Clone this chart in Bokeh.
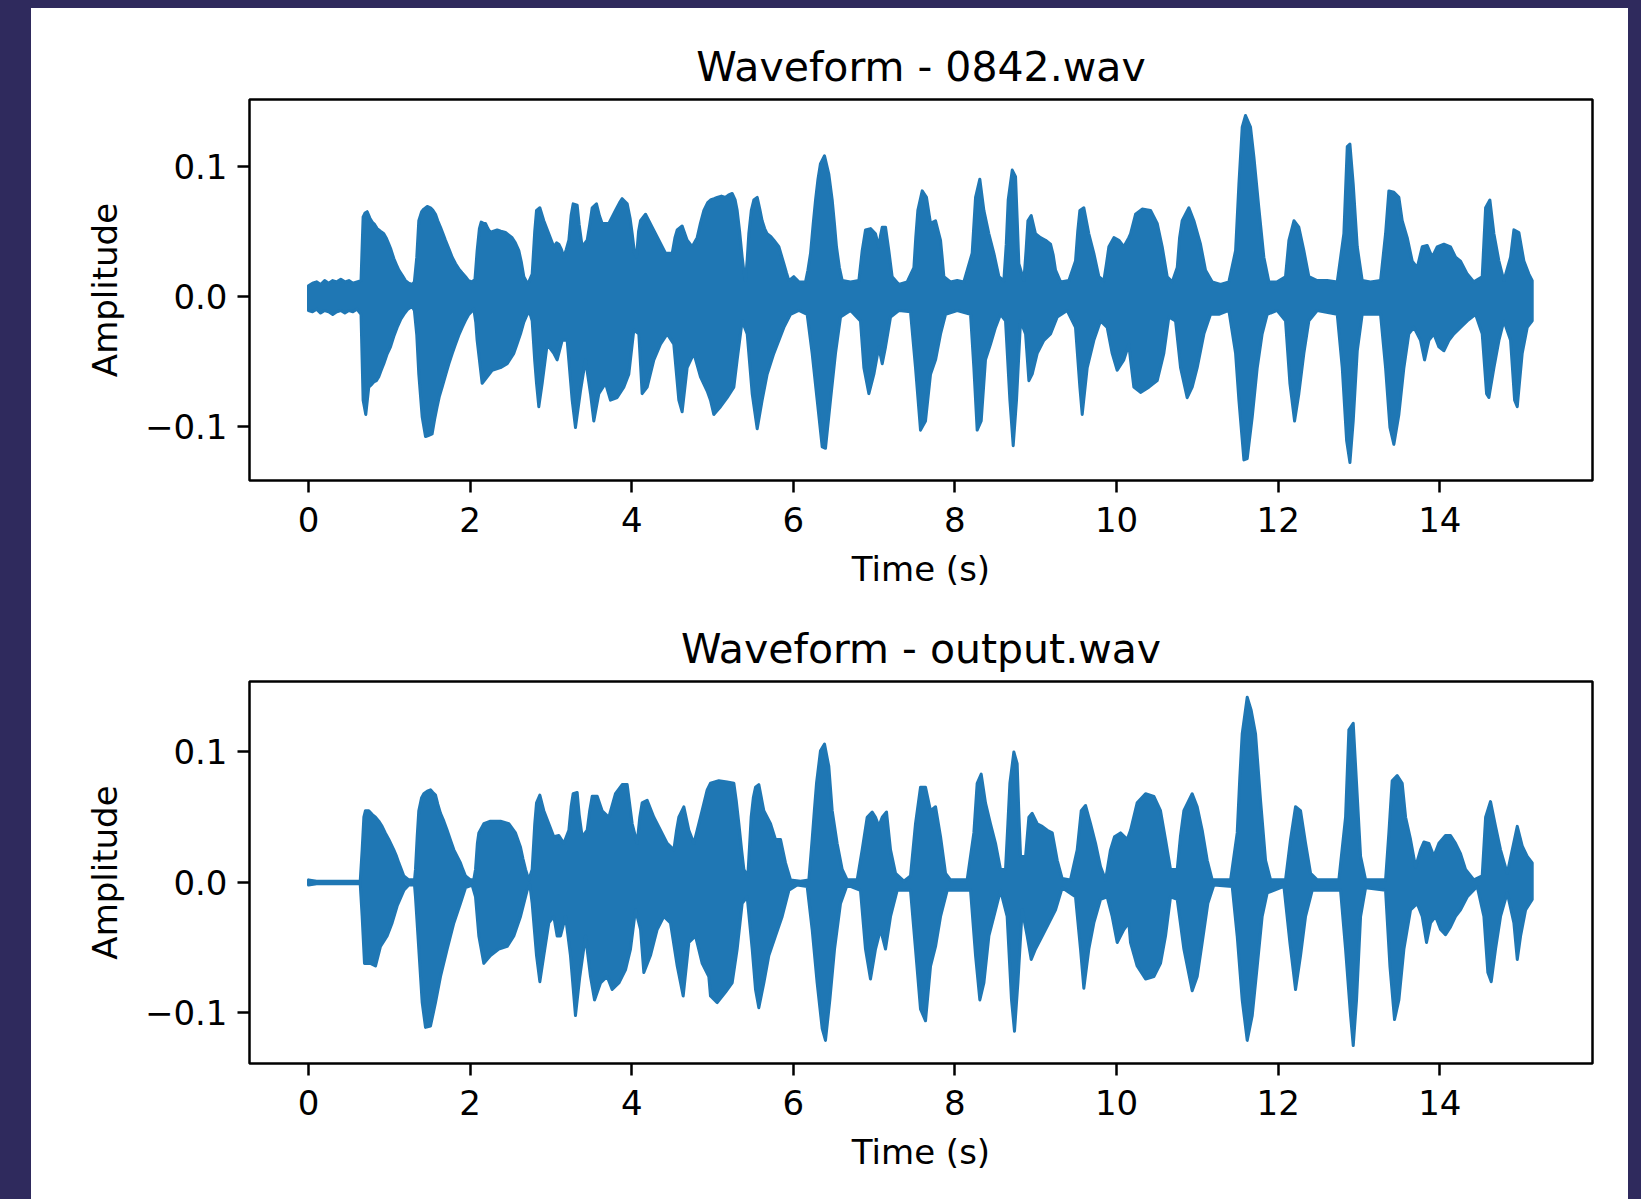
from bokeh.plotting import figure
from bokeh.layouts import row, column
from bokeh.models import FixedTicker, Range1d, Div
from bokeh.embed import file_html
from bokeh.resources import INLINE

PAGE_BG = "#2f2a5d"
WAVE = "#1f77b4"
FONT = "DejaVu Sans"

time_ticks = [0, 2, 4, 6, 8, 10, 12, 14]
amp_ticks = [-0.1, 0.0, 0.1]
amp_labels = {-0.1: "\u22120.1", 0.0: "0.0", 0.1: "0.1"}

# Peak envelopes (time in s, amplitude) of 0842.wav
top_upper = [
    (0.00, 0.008), (0.05, 0.010), (0.10, 0.011), (0.15, 0.009), (0.20, 0.012), (0.25, 0.010),
    (0.30, 0.012), (0.35, 0.011), (0.40, 0.013), (0.45, 0.011), (0.50, 0.012), (0.55, 0.010),
    (0.60, 0.011), (0.65, 0.012),
    (0.676, 0.061), (0.70, 0.064), (0.726, 0.065), (0.76, 0.060), (0.788, 0.057), (0.82, 0.055),
    (0.85, 0.052), (0.89, 0.050), (0.932, 0.048), (0.96, 0.045), (0.994, 0.040), (1.02, 0.036),
    (1.056, 0.029), (1.09, 0.024), (1.118, 0.020), (1.16, 0.016), (1.20, 0.012), (1.24, 0.010),
    (1.283, 0.009), (1.31, 0.011),
    (1.34, 0.030), (1.365, 0.058), (1.40, 0.065), (1.427, 0.067), (1.47, 0.069), (1.51, 0.068),
    (1.54, 0.066), (1.572, 0.063), (1.60, 0.058), (1.634, 0.053), (1.665, 0.048), (1.695, 0.043),
    (1.74, 0.036), (1.778, 0.030), (1.82, 0.025), (1.86, 0.021), (1.90, 0.018), (1.943, 0.015),
    (1.98, 0.012), (2.025, 0.011), (2.06, 0.013),
    (2.087, 0.035), (2.115, 0.052), (2.137, 0.057), (2.165, 0.056), (2.19, 0.056), (2.22, 0.052),
    (2.252, 0.049), (2.29, 0.050), (2.335, 0.051), (2.38, 0.050), (2.438, 0.049), (2.48, 0.047),
    (2.52, 0.045), (2.56, 0.041), (2.603, 0.035), (2.635, 0.026), (2.665, 0.015), (2.70, 0.011),
    (2.727, 0.011),
    (2.768, 0.017), (2.80, 0.050), (2.822, 0.066), (2.863, 0.068), (2.912, 0.058), (2.974, 0.048),
    (3.036, 0.038), (3.07, 0.041), (3.098, 0.040), (3.13, 0.036), (3.160, 0.030), (3.19, 0.036),
    (3.222, 0.043), (3.25, 0.062), (3.275, 0.071), (3.325, 0.070), (3.35, 0.055), (3.387, 0.038),
    (3.449, 0.043), (3.48, 0.055), (3.511, 0.068), (3.564, 0.071), (3.60, 0.062), (3.634, 0.056),
    (3.717, 0.056), (3.799, 0.066), (3.85, 0.072), (3.882, 0.075), (3.944, 0.071), (3.98, 0.060),
    (4.006, 0.048), (4.035, 0.033), (4.059, 0.030), (4.085, 0.050), (4.109, 0.058), (4.171, 0.063),
    (4.253, 0.053), (4.336, 0.043), (4.418, 0.033), (4.501, 0.033), (4.535, 0.045), (4.563, 0.051),
    (4.624, 0.054), (4.686, 0.043), (4.748, 0.038), (4.810, 0.045), (4.85, 0.056), (4.893, 0.066),
    (4.94, 0.072), (4.975, 0.074),
    (5.02, 0.075), (5.058, 0.076), (5.11, 0.077), (5.161, 0.076), (5.20, 0.078), (5.243, 0.079),
    (5.28, 0.074), (5.305, 0.066), (5.335, 0.050), (5.367, 0.030), (5.39, 0.018), (5.408, 0.012),
    (5.429, 0.028), (5.449, 0.048), (5.48, 0.066), (5.511, 0.074), (5.553, 0.076), (5.585, 0.067),
    (5.614, 0.058), (5.645, 0.052), (5.676, 0.048), (5.72, 0.046), (5.759, 0.043), (5.821, 0.038),
    (5.85, 0.032), (5.883, 0.025), (5.915, 0.018), (5.945, 0.012), (6.006, 0.015), (6.068, 0.011),
    (6.151, 0.011), (6.18, 0.020), (6.213, 0.033), (6.245, 0.055), (6.275, 0.074), (6.305, 0.090),
    (6.336, 0.102), (6.386, 0.108), (6.439, 0.094), (6.481, 0.074), (6.51, 0.055), (6.534, 0.038),
    (6.57, 0.022), (6.605, 0.012), (6.708, 0.011), (6.811, 0.012), (6.852, 0.035), (6.893, 0.051),
    (6.955, 0.052), (7.017, 0.048), (7.058, 0.038), (7.08, 0.047), (7.100, 0.053), (7.141, 0.053),
    (7.182, 0.035), (7.223, 0.015), (7.306, 0.009), (7.409, 0.011), (7.492, 0.022), (7.515, 0.045),
    (7.541, 0.066), (7.595, 0.081), (7.648, 0.076), (7.698, 0.056), (7.760, 0.058), (7.822, 0.043),
    (7.845, 0.028), (7.863, 0.015), (7.945, 0.011), (8.028, 0.012), (8.110, 0.011), (8.213, 0.033),
    (8.255, 0.076), (8.308, 0.090), (8.358, 0.066), (8.420, 0.048), (8.482, 0.033), (8.544, 0.015),
    (8.605, 0.012), (8.635, 0.040), (8.659, 0.074), (8.709, 0.097), (8.750, 0.092), (8.77, 0.060),
    (8.791, 0.025), (8.853, 0.012), (8.88, 0.035), (8.903, 0.058), (8.944, 0.062), (8.997, 0.048),
    (9.059, 0.045), (9.121, 0.043), (9.183, 0.040), (9.215, 0.032), (9.245, 0.020), (9.307, 0.011),
    (9.410, 0.012), (9.492, 0.027), (9.52, 0.050), (9.546, 0.066), (9.595, 0.068), (9.657, 0.048),
    (9.719, 0.033), (9.781, 0.015), (9.843, 0.012), (9.875, 0.025), (9.905, 0.038), (9.967, 0.045),
    (10.028, 0.043), (10.090, 0.038), (10.152, 0.045),
    (10.173, 0.048), (10.235, 0.063), (10.317, 0.067), (10.421, 0.066), (10.503, 0.056),
    (10.565, 0.038), (10.60, 0.025), (10.627, 0.015), (10.689, 0.011), (10.751, 0.022),
    (10.78, 0.045), (10.812, 0.058), (10.895, 0.068), (10.957, 0.058), (11.039, 0.040),
    (11.101, 0.020), (11.184, 0.011), (11.287, 0.009), (11.390, 0.011), (11.473, 0.035),
    (11.514, 0.086), (11.555, 0.130), (11.596, 0.139), (11.658, 0.130), (11.700, 0.107),
    (11.761, 0.068), (11.823, 0.030), (11.885, 0.011), (11.988, 0.011), (12.091, 0.015),
    (12.133, 0.043), (12.195, 0.058), (12.256, 0.053), (12.318, 0.035), (12.380, 0.015),
    (12.483, 0.012), (12.607, 0.012), (12.731, 0.011), (12.813, 0.048), (12.855, 0.115),
    (12.888, 0.117), (12.929, 0.086), (12.979, 0.038), (13.040, 0.012), (13.143, 0.011),
    (13.267, 0.012), (13.329, 0.048), (13.370, 0.081), (13.432, 0.080), (13.494, 0.076),
    (13.535, 0.058), (13.597, 0.045), (13.659, 0.027), (13.721, 0.022), (13.783, 0.038),
    (13.845, 0.039), (13.906, 0.030), (13.968, 0.038), (14.051, 0.040), (14.133, 0.038),
    (14.195, 0.030), (14.257, 0.027), (14.340, 0.017), (14.422, 0.011), (14.525, 0.015),
    (14.567, 0.068), (14.620, 0.074), (14.670, 0.048), (14.732, 0.027), (14.793, 0.012),
    (14.876, 0.030), (14.917, 0.051), (14.979, 0.049), (15.041, 0.027), (15.103, 0.017),
    (15.144, 0.012),
]

top_lower = [
    (0.00, -0.011), (0.05, -0.012), (0.10, -0.010), (0.15, -0.013), (0.20, -0.011), (0.25, -0.012),
    (0.30, -0.014), (0.35, -0.012), (0.40, -0.011), (0.45, -0.013), (0.50, -0.011), (0.55, -0.012),
    (0.60, -0.010), (0.65, -0.014),
    (0.676, -0.080), (0.709, -0.091), (0.746, -0.070), (0.78, -0.068), (0.808, -0.066),
    (0.84, -0.065), (0.870, -0.062), (0.90, -0.057), (0.932, -0.052), (0.97, -0.045),
    (1.015, -0.039), (1.055, -0.031), (1.097, -0.024), (1.14, -0.018), (1.180, -0.014),
    (1.23, -0.010), (1.283, -0.008), (1.31, -0.011),
    (1.34, -0.030), (1.365, -0.060), (1.407, -0.093), (1.448, -0.108), (1.49, -0.107),
    (1.530, -0.106), (1.56, -0.095), (1.592, -0.085), (1.62, -0.077), (1.654, -0.070),
    (1.70, -0.060), (1.737, -0.052), (1.78, -0.044), (1.819, -0.037), (1.86, -0.030),
    (1.902, -0.024), (1.94, -0.019), (1.984, -0.014), (2.046, -0.010), (2.07, -0.020),
    (2.087, -0.034), (2.149, -0.067), (2.211, -0.062), (2.273, -0.057), (2.376, -0.055),
    (2.459, -0.052), (2.541, -0.044), (2.58, -0.037), (2.624, -0.029), (2.665, -0.020),
    (2.706, -0.014), (2.74, -0.013),
    (2.768, -0.019), (2.80, -0.050), (2.822, -0.067), (2.850, -0.085), (2.892, -0.067),
    (2.954, -0.037), (3.036, -0.044), (3.077, -0.049), (3.139, -0.034), (3.201, -0.034),
    (3.263, -0.080), (3.304, -0.101), (3.366, -0.073), (3.428, -0.049), (3.490, -0.075),
    (3.531, -0.096), (3.593, -0.075), (3.676, -0.067), (3.737, -0.080), (3.820, -0.078),
    (3.902, -0.070), (3.964, -0.060), (4.026, -0.026), (4.088, -0.029), (4.129, -0.075),
    (4.191, -0.070), (4.274, -0.049), (4.356, -0.037), (4.439, -0.029), (4.521, -0.037),
    (4.583, -0.080), (4.624, -0.089), (4.686, -0.055), (4.769, -0.044), (4.851, -0.062),
    (4.934, -0.073),
    (4.975, -0.080), (5.016, -0.091), (5.058, -0.088), (5.099, -0.085), (5.181, -0.078),
    (5.264, -0.070), (5.305, -0.049), (5.367, -0.019), (5.429, -0.029), (5.491, -0.075),
    (5.553, -0.102), (5.614, -0.080), (5.676, -0.060), (5.759, -0.044), (5.821, -0.034),
    (5.883, -0.024), (5.965, -0.014), (6.068, -0.011), (6.171, -0.014), (6.233, -0.044),
    (6.295, -0.080), (6.357, -0.116), (6.398, -0.117), (6.460, -0.080), (6.522, -0.044),
    (6.584, -0.016), (6.708, -0.011), (6.831, -0.019), (6.873, -0.055), (6.935, -0.075),
    (6.997, -0.060), (7.058, -0.039), (7.100, -0.052), (7.141, -0.039), (7.203, -0.016),
    (7.306, -0.011), (7.450, -0.012), (7.512, -0.055), (7.574, -0.103), (7.636, -0.096),
    (7.698, -0.060), (7.760, -0.049), (7.822, -0.029), (7.884, -0.014), (8.028, -0.011),
    (8.193, -0.014), (8.234, -0.055), (8.275, -0.103), (8.325, -0.096), (8.378, -0.049),
    (8.440, -0.037), (8.502, -0.024), (8.564, -0.014), (8.626, -0.019), (8.680, -0.080),
    (8.721, -0.115), (8.762, -0.080), (8.812, -0.019), (8.874, -0.029), (8.915, -0.065),
    (8.956, -0.060), (9.018, -0.044), (9.100, -0.034), (9.183, -0.029), (9.266, -0.016),
    (9.389, -0.011), (9.492, -0.024), (9.546, -0.070), (9.575, -0.091), (9.637, -0.055),
    (9.719, -0.034), (9.802, -0.019), (9.884, -0.024), (9.946, -0.044), (10.008, -0.057),
    (10.090, -0.049), (10.152, -0.037),
    (10.173, -0.049), (10.214, -0.070), (10.297, -0.074), (10.400, -0.070), (10.503, -0.065),
    (10.585, -0.044), (10.647, -0.016), (10.730, -0.019), (10.792, -0.055), (10.874, -0.078),
    (10.936, -0.070), (10.998, -0.055), (11.081, -0.029), (11.163, -0.014), (11.266, -0.014),
    (11.390, -0.011), (11.473, -0.044), (11.514, -0.080), (11.576, -0.126), (11.617, -0.125),
    (11.679, -0.093), (11.741, -0.055), (11.802, -0.029), (11.864, -0.014), (11.988, -0.011),
    (12.091, -0.019), (12.145, -0.067), (12.203, -0.096), (12.256, -0.075), (12.318, -0.044),
    (12.380, -0.019), (12.483, -0.011), (12.731, -0.014), (12.793, -0.055), (12.847, -0.111),
    (12.888, -0.128), (12.929, -0.096), (12.979, -0.042), (13.040, -0.014), (13.267, -0.014),
    (13.329, -0.055), (13.383, -0.101), (13.432, -0.114), (13.494, -0.091), (13.556, -0.055),
    (13.617, -0.029), (13.680, -0.024), (13.762, -0.034), (13.812, -0.049), (13.865, -0.034),
    (13.927, -0.029), (13.989, -0.039), (14.051, -0.042), (14.113, -0.034), (14.175, -0.029),
    (14.257, -0.024), (14.340, -0.019), (14.443, -0.014), (14.525, -0.029), (14.579, -0.075),
    (14.608, -0.078), (14.670, -0.055), (14.732, -0.034), (14.793, -0.019), (14.876, -0.034),
    (14.926, -0.080), (14.959, -0.085), (15.020, -0.044), (15.082, -0.024), (15.144, -0.019),
]

# Peak envelopes (time in s, amplitude) of output.wav
bottom_upper = [
    (0.00, 0.002), (0.10, 0.001), (0.30, 0.001), (0.50, 0.001), (0.64, 0.001),
    (0.664, 0.025), (0.685, 0.050), (0.705, 0.055), (0.746, 0.055), (0.79, 0.052), (0.829, 0.050),
    (0.87, 0.047), (0.911, 0.043), (0.95, 0.038), (0.994, 0.033), (1.056, 0.025), (1.09, 0.020),
    (1.118, 0.015), (1.15, 0.010), (1.180, 0.005), (1.241, 0.002), (1.312, 0.002),
    (1.324, 0.010), (1.345, 0.035), (1.365, 0.055), (1.40, 0.065), (1.427, 0.068), (1.47, 0.070),
    (1.510, 0.071), (1.54, 0.069), (1.572, 0.067), (1.60, 0.060), (1.634, 0.053), (1.675, 0.047),
    (1.716, 0.040), (1.76, 0.032), (1.799, 0.025), (1.84, 0.020), (1.881, 0.015), (1.91, 0.010),
    (1.943, 0.005), (2.005, 0.002), (2.045, 0.002),
    (2.067, 0.010), (2.09, 0.030), (2.108, 0.038), (2.170, 0.045), (2.252, 0.047), (2.376, 0.047),
    (2.479, 0.045), (2.562, 0.038), (2.624, 0.027), (2.655, 0.018), (2.686, 0.010), (2.727, 0.002),
    (2.768, 0.010), (2.80, 0.045), (2.822, 0.061), (2.863, 0.067), (2.912, 0.055), (2.974, 0.045),
    (3.036, 0.035), (3.098, 0.036), (3.160, 0.030), (3.222, 0.040), (3.25, 0.058), (3.275, 0.068),
    (3.325, 0.069), (3.35, 0.052), (3.387, 0.035), (3.449, 0.040), (3.48, 0.055), (3.511, 0.066),
    (3.573, 0.066), (3.634, 0.055), (3.717, 0.050), (3.799, 0.068), (3.882, 0.075), (3.944, 0.075),
    (3.975, 0.060), (4.006, 0.045), (4.067, 0.030), (4.10, 0.050), (4.129, 0.061), (4.191, 0.063),
    (4.274, 0.050), (4.356, 0.040), (4.439, 0.030), (4.521, 0.025), (4.555, 0.040), (4.583, 0.050),
    (4.645, 0.058), (4.707, 0.040), (4.769, 0.030), (4.851, 0.050), (4.934, 0.071), (4.975, 0.076),
    (5.078, 0.078), (5.181, 0.077), (5.264, 0.076), (5.295, 0.062), (5.326, 0.045), (5.36, 0.025),
    (5.388, 0.010), (5.437, 0.005), (5.46, 0.030), (5.478, 0.050), (5.505, 0.065), (5.532, 0.073),
    (5.573, 0.075), (5.635, 0.055), (5.718, 0.045), (5.779, 0.033), (5.841, 0.033), (5.903, 0.015),
    (5.965, 0.002), (6.089, 0.001), (6.192, 0.002), (6.233, 0.033), (6.26, 0.055), (6.287, 0.076),
    (6.336, 0.101), (6.386, 0.106), (6.439, 0.089), (6.481, 0.055), (6.542, 0.030), (6.605, 0.010),
    (6.666, 0.002), (6.790, 0.002), (6.852, 0.025), (6.914, 0.050), (6.976, 0.054), (7.017, 0.050),
    (7.058, 0.043), (7.100, 0.050), (7.153, 0.054), (7.203, 0.025), (7.265, 0.007), (7.368, 0.001),
    (7.450, 0.005), (7.512, 0.045), (7.574, 0.073), (7.636, 0.073), (7.698, 0.055), (7.760, 0.058),
    (7.822, 0.035), (7.884, 0.007), (7.945, 0.002), (8.151, 0.002), (8.234, 0.038), (8.275, 0.076),
    (8.325, 0.083), (8.378, 0.061), (8.440, 0.045), (8.502, 0.030), (8.564, 0.010), (8.626, 0.010),
    (8.655, 0.045), (8.680, 0.076), (8.729, 0.100), (8.770, 0.091), (8.79, 0.055), (8.812, 0.020),
    (8.874, 0.020), (8.915, 0.050), (8.956, 0.053), (9.018, 0.045), (9.080, 0.043), (9.142, 0.040),
    (9.204, 0.038), (9.266, 0.017), (9.327, 0.003), (9.430, 0.002), (9.513, 0.025), (9.563, 0.055),
    (9.616, 0.059), (9.678, 0.045), (9.740, 0.030), (9.802, 0.012), (9.864, 0.002), (9.925, 0.025),
    (9.975, 0.035), (10.049, 0.038), (10.132, 0.033),
    (10.173, 0.040), (10.255, 0.061), (10.359, 0.068), (10.462, 0.066), (10.544, 0.055),
    (10.606, 0.033), (10.668, 0.010), (10.751, 0.010), (10.79, 0.035), (10.833, 0.055),
    (10.936, 0.068), (10.998, 0.058), (11.060, 0.040), (11.122, 0.017), (11.184, 0.002),
    (11.411, 0.002), (11.493, 0.038), (11.525, 0.080), (11.555, 0.114), (11.617, 0.142),
    (11.666, 0.132), (11.720, 0.114), (11.782, 0.063), (11.844, 0.017), (11.906, 0.002),
    (12.091, 0.002), (12.153, 0.033), (12.215, 0.058), (12.277, 0.055), (12.339, 0.030),
    (12.401, 0.007), (12.483, 0.002), (12.751, 0.002), (12.834, 0.050), (12.875, 0.117),
    (12.929, 0.122), (12.970, 0.076), (13.020, 0.020), (13.082, 0.002), (13.329, 0.002),
    (13.370, 0.038), (13.411, 0.078), (13.473, 0.082), (13.535, 0.076), (13.577, 0.050),
    (13.638, 0.033), (13.700, 0.012), (13.762, 0.025), (13.803, 0.031), (13.865, 0.030),
    (13.927, 0.020), (13.989, 0.030), (14.071, 0.036), (14.133, 0.036), (14.195, 0.030),
    (14.257, 0.022), (14.319, 0.010), (14.422, 0.002), (14.525, 0.005), (14.567, 0.050),
    (14.628, 0.062), (14.690, 0.043), (14.752, 0.025), (14.835, 0.007), (14.897, 0.025),
    (14.959, 0.043), (15.020, 0.028), (15.082, 0.020), (15.144, 0.015),
]

bottom_lower = [
    (0.00, -0.002), (0.10, -0.001), (0.30, -0.001), (0.50, -0.001), (0.64, -0.001),
    (0.664, -0.026), (0.693, -0.062), (0.767, -0.062), (0.829, -0.064), (0.891, -0.049),
    (0.973, -0.041), (1.035, -0.031), (1.097, -0.018), (1.180, -0.006), (1.241, -0.002),
    (1.312, -0.002),
    (1.324, -0.011), (1.365, -0.051), (1.407, -0.092), (1.448, -0.111), (1.510, -0.110),
    (1.572, -0.092), (1.634, -0.072), (1.716, -0.051), (1.799, -0.031), (1.881, -0.016),
    (1.943, -0.004), (2.025, -0.002),
    (2.067, -0.011), (2.108, -0.041), (2.170, -0.062), (2.252, -0.056), (2.355, -0.051),
    (2.459, -0.049), (2.541, -0.041), (2.624, -0.026), (2.706, -0.006), (2.74, -0.002),
    (2.768, -0.016), (2.822, -0.056), (2.863, -0.076), (2.912, -0.056), (2.974, -0.031),
    (3.036, -0.026), (3.077, -0.041), (3.119, -0.041), (3.181, -0.026), (3.242, -0.056),
    (3.304, -0.102), (3.358, -0.072), (3.428, -0.041), (3.490, -0.072), (3.540, -0.090),
    (3.614, -0.077), (3.696, -0.072), (3.758, -0.082), (3.841, -0.077), (3.923, -0.067),
    (3.985, -0.051), (4.047, -0.021), (4.109, -0.036), (4.150, -0.069), (4.232, -0.056),
    (4.315, -0.036), (4.398, -0.026), (4.480, -0.031), (4.563, -0.064), (4.637, -0.087),
    (4.707, -0.046), (4.789, -0.041), (4.872, -0.062), (4.954, -0.072),
    (4.975, -0.087), (5.058, -0.092), (5.161, -0.084), (5.243, -0.077), (5.305, -0.051),
    (5.367, -0.016), (5.429, -0.011), (5.491, -0.051), (5.532, -0.082), (5.573, -0.096),
    (5.635, -0.077), (5.697, -0.056), (5.779, -0.041), (5.862, -0.026), (5.945, -0.006),
    (6.048, -0.002), (6.171, -0.003), (6.233, -0.036), (6.295, -0.077), (6.357, -0.112),
    (6.398, -0.121), (6.452, -0.090), (6.510, -0.051), (6.584, -0.016), (6.666, -0.002),
    (6.831, -0.006), (6.893, -0.051), (6.955, -0.074), (7.017, -0.051), (7.079, -0.036),
    (7.141, -0.051), (7.203, -0.026), (7.285, -0.006), (7.450, -0.006), (7.512, -0.051),
    (7.574, -0.097), (7.636, -0.106), (7.698, -0.064), (7.760, -0.049), (7.822, -0.026),
    (7.904, -0.006), (8.193, -0.006), (8.255, -0.056), (8.308, -0.090), (8.358, -0.077),
    (8.420, -0.041), (8.482, -0.026), (8.564, -0.006), (8.646, -0.026), (8.700, -0.090),
    (8.737, -0.114), (8.779, -0.077), (8.832, -0.021), (8.894, -0.041), (8.944, -0.059),
    (8.997, -0.051), (9.080, -0.041), (9.162, -0.031), (9.245, -0.021), (9.327, -0.004),
    (9.492, -0.011), (9.554, -0.051), (9.595, -0.081), (9.657, -0.051), (9.719, -0.031),
    (9.802, -0.013), (9.884, -0.011), (9.946, -0.026), (10.008, -0.046), (10.090, -0.036),
    (10.152, -0.031),
    (10.173, -0.046), (10.255, -0.064), (10.359, -0.074), (10.462, -0.072), (10.544, -0.062),
    (10.606, -0.041), (10.668, -0.011), (10.751, -0.013), (10.833, -0.051), (10.936, -0.083),
    (10.998, -0.072), (11.060, -0.046), (11.130, -0.016), (11.204, -0.002), (11.431, -0.003),
    (11.493, -0.041), (11.555, -0.090), (11.617, -0.121), (11.679, -0.102), (11.741, -0.064),
    (11.802, -0.026), (11.864, -0.008), (12.071, -0.003), (12.145, -0.046), (12.215, -0.082),
    (12.277, -0.056), (12.339, -0.026), (12.421, -0.006), (12.772, -0.006), (12.834, -0.051),
    (12.896, -0.102), (12.929, -0.125), (12.970, -0.090), (13.020, -0.026), (13.082, -0.004),
    (13.329, -0.006), (13.383, -0.064), (13.440, -0.105), (13.494, -0.090), (13.556, -0.051),
    (13.638, -0.021), (13.721, -0.016), (13.783, -0.026), (13.836, -0.046), (13.886, -0.031),
    (13.948, -0.026), (14.010, -0.036), (14.071, -0.040), (14.133, -0.034), (14.195, -0.026),
    (14.257, -0.021), (14.340, -0.011), (14.463, -0.003), (14.546, -0.026), (14.595, -0.069),
    (14.637, -0.076), (14.690, -0.051), (14.752, -0.026), (14.835, -0.008), (14.917, -0.031),
    (14.959, -0.059), (15.000, -0.041), (15.062, -0.021), (15.144, -0.013),
]


def strip(width, height):
    return Div(text="", width=width, height=height, margin=0,
               styles={"background-color": PAGE_BG})


def waveform_panel(name, upper, lower, y_span, height, border_top, border_bottom):
    p = figure(width=1597, height=height, output_backend="svg", toolbar_location=None,
               x_range=Range1d(-0.73, 15.89), y_range=Range1d(*y_span),
               min_border_left=218, min_border_right=36,
               min_border_top=border_top, min_border_bottom=border_bottom,
               background_fill_color="white", border_fill_color="white",
               outline_line_color="black", outline_line_width=2.5,
               title="Waveform - " + name)
    p.title.align = "center"
    p.title.text_font = FONT
    p.title.text_font_size = "41px"
    p.title.text_font_style = "normal"
    p.title.text_color = "black"
    p.title.standoff = 18

    xs = [t for t, _ in upper] + [t for t, _ in reversed(lower)]
    ys = [a for _, a in upper] + [a for _, a in reversed(lower)]
    p.patch(xs, ys, fill_color=WAVE, line_color=WAVE, line_width=3, line_join="round")

    p.grid.visible = False
    p.xaxis.ticker = FixedTicker(ticks=time_ticks)
    p.yaxis.ticker = FixedTicker(ticks=amp_ticks)
    p.yaxis.major_label_overrides = amp_labels
    p.xaxis.axis_label = "Time (s)"
    p.yaxis.axis_label = "Amplitude"
    for ax in (p.xaxis[0], p.yaxis[0]):
        ax.axis_line_color = None
        ax.major_tick_in = 0
        ax.major_tick_out = 12
        ax.major_tick_line_width = 2.5
        ax.major_tick_line_color = "black"
        ax.minor_tick_out = 0
        ax.minor_tick_in = 0
        ax.major_label_text_font = FONT
        ax.major_label_text_font_size = "34px"
        ax.major_label_text_color = "black"
        ax.axis_label_text_font = FONT
        ax.axis_label_text_font_size = "34px"
        ax.axis_label_text_font_style = "normal"
        ax.axis_label_text_color = "black"
    p.xaxis.major_label_standoff = 14
    p.xaxis.axis_label_standoff = 14
    p.yaxis.major_label_standoff = 10
    p.yaxis.axis_label_standoff = 17
    return p


p_top = waveform_panel("0842.wav", top_upper, top_lower, (-0.1418, 0.1513), 592, 91, 120)
p_bottom = waveform_panel("output.wav", bottom_upper, bottom_lower, (-0.1387, 0.1540), 599, 81, 136)

page = row(strip(31, 1199), column(strip(1597, 8), p_top, p_bottom, spacing=0),
           strip(13, 1199), spacing=0)

open("out.html", "w").write(file_html(page, INLINE))
